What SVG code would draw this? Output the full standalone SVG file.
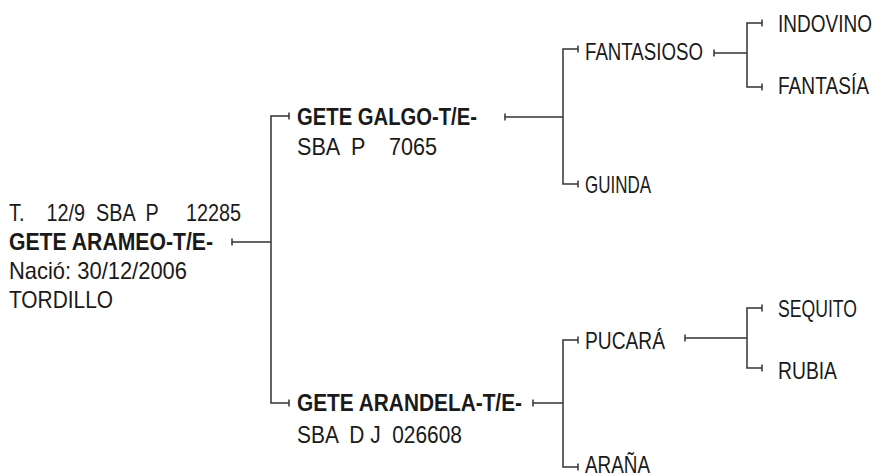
<svg xmlns="http://www.w3.org/2000/svg" width="879" height="475" viewBox="0 0 879 475">
<style>
  text { font-family: "Liberation Sans", Arial, sans-serif; font-size: 24px; fill: #1a1a1a; white-space: pre; }
  .b { font-weight: bold; }
  .c { fill: none; stroke: #333; stroke-width: 1.5; }
</style>
<rect width="879" height="475" fill="#fff"/>
<g id="connectors" class="c">
  <path d="M232 238.5V245.5M232 242H271"/>
  <path d="M289 112.5V119.5M289 116H271V403H289M289 399.5V406.5"/>
  <path d="M505 113.5V120.5M505 117H563"/>
  <path d="M578 45.5V52.5M578 49H563V184H578M578 180.5V187.5"/>
  <path d="M533 399.5V406.5M533 403H563"/>
  <path d="M578 336.5V343.5M578 340H563V467H578M578 463.5V470.5"/>
  <path d="M714 49.5V56.5M714 53H747"/>
  <path d="M762 19.5V26.5M762 23H747V87H762M762 83.5V90.5"/>
  <path d="M685 334.5V341.5M685 338H747"/>
  <path d="M762 304.5V311.5M762 308H747V368H762M762 364.5V371.5"/>
</g>
<g id="root">
  <text x="9" y="221" textLength="232" lengthAdjust="spacingAndGlyphs">T.    12/9  SBA  P     12285</text>
  <text class="b" x="9" y="250" textLength="204" lengthAdjust="spacingAndGlyphs">GETE ARAMEO-T/E-</text>
  <text x="9" y="279" textLength="178" lengthAdjust="spacingAndGlyphs">Nació: 30/12/2006</text>
  <text x="9" y="308" textLength="104" lengthAdjust="spacingAndGlyphs">TORDILLO</text>
</g>
<g id="galgo">
  <text class="b" x="297" y="125" textLength="180" lengthAdjust="spacingAndGlyphs">GETE GALGO-T/E-</text>
  <text x="297" y="155" textLength="140" lengthAdjust="spacingAndGlyphs">SBA  P    7065</text>
</g>
<g id="arandela">
  <text class="b" x="297" y="411" textLength="225" lengthAdjust="spacingAndGlyphs">GETE ARANDELA-T/E-</text>
  <text x="297" y="443" textLength="165" lengthAdjust="spacingAndGlyphs">SBA  D J  026608</text>
</g>
<g id="fantasioso"><text x="585" y="60" textLength="118" lengthAdjust="spacingAndGlyphs">FANTASIOSO</text></g>
<g id="guinda"><text x="585" y="193" textLength="66" lengthAdjust="spacingAndGlyphs">GUINDA</text></g>
<g id="pucara"><text x="585" y="349" textLength="80" lengthAdjust="spacingAndGlyphs">PUCARÁ</text></g>
<g id="arana"><text x="585" y="473" textLength="65" lengthAdjust="spacingAndGlyphs">ARAÑA</text></g>
<g id="indovino"><text x="778" y="32" textLength="94" lengthAdjust="spacingAndGlyphs">INDOVINO</text></g>
<g id="fantasia"><text x="778" y="94" textLength="91" lengthAdjust="spacingAndGlyphs">FANTASÍA</text></g>
<g id="sequito"><text x="778" y="317" textLength="79" lengthAdjust="spacingAndGlyphs">SEQUITO</text></g>
<g id="rubia"><text x="778" y="379" textLength="59" lengthAdjust="spacingAndGlyphs">RUBIA</text></g>
</svg>
